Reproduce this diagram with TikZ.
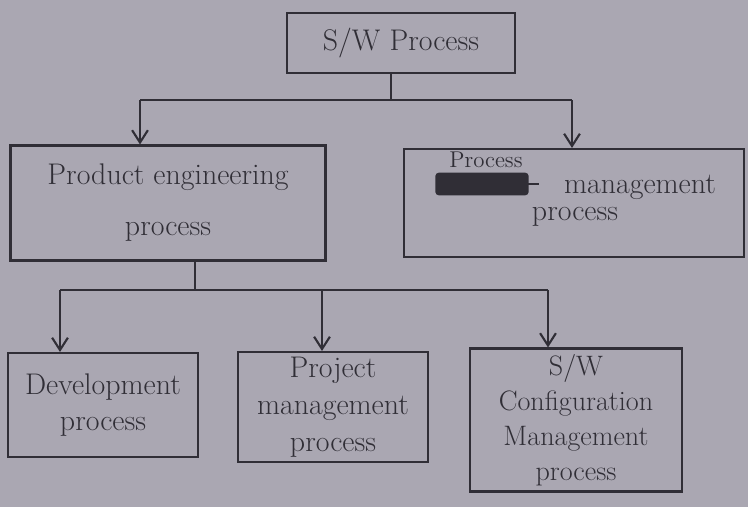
\documentclass[tikz,border=0pt]{standalone}
\usetikzlibrary{arrows.meta}
\definecolor{paper}{RGB}{170,167,178}
\definecolor{ink}{RGB}{48,46,54}
\begin{document}
\begin{tikzpicture}[x=0.02cm,y=-0.02cm,
  box/.style={draw=ink,line width=1.2pt,rectangle,inner sep=2pt,align=center,
    text=ink,font=\fontsize{17}{21}\selectfont},
  wire/.style={draw=ink,line width=1.2pt},
  arr/.style={wire,-{Straight Barb[length=7pt,width=9pt]}},
  lbl/.style={text=ink,font=\fontsize{17}{21}\selectfont,inner sep=0pt}]
% paper
\fill[paper] (0,0) rectangle (748,507);
\useasboundingbox (0,0) rectangle (748,507);

% boxes
\node[box,minimum width=228*0.02cm,minimum height=60*0.02cm] (sw) at (401,43) {S/W Process};
\node[box,minimum width=315*0.02cm,minimum height=115*0.02cm] (pe) at (168,203)
  {Product engineering\\[8pt]process};
\node[box,minimum width=340*0.02cm,minimum height=108*0.02cm] (pm) at (574,203) {};
\node[box,minimum width=190*0.02cm,minimum height=104*0.02cm] (dev) at (103,405)
  {Development\\process};
\node[box,minimum width=190*0.02cm,minimum height=110*0.02cm] (proj) at (333,407)
  {Project\\management\\process};
\node[box,minimum width=212*0.02cm,minimum height=143*0.02cm,
  font=\fontsize{16}{20}\selectfont] (cfg) at (576,420)
  {S/W\\Configuration\\Management\\process};

% corrected label in the right box: the old word is scribbled over
\node[lbl,font=\fontsize{13}{15}\selectfont] (fix) at (486,160) {Process};
\node[lbl,font=\fontsize{15}{18}\selectfont] (old) at (482,184) {Product};
\fill[ink,rounded corners=2pt] ([xshift=-2pt,yshift=-1pt]old.south west)
  rectangle ([xshift=2pt,yshift=1pt]old.north east);
\draw[wire] (old.east) -- ++(14,0);
\node[lbl] (mg) at (640,187) {management};
\node[lbl] (pr) at (575,217) {process};

% top level connectors
\coordinate (j1) at (391,100);
\coordinate (a1) at (140,100);
\coordinate (a2) at (572,100);
\draw[wire] (sw.south -| j1) -- (j1);
\draw[wire] (a1) -- (a2);
\draw[arr] (a1) -- (pe.north -| a1);
\draw[arr] (a2) -- (pm.north -| a2);

% second level connectors
\coordinate (j2) at (195,290);
\coordinate (b1) at (60,290);
\coordinate (b2) at (322,290);
\coordinate (b3) at (548,290);
\draw[wire] (pe.south -| j2) -- (j2);
\draw[wire] (b1) -- (b3);
\draw[arr] (b1) -- (dev.north -| b1);
\draw[arr] (b2) -- (proj.north -| b2);
\draw[arr] (b3) -- (cfg.north -| b3);
\end{tikzpicture}
\end{document}
